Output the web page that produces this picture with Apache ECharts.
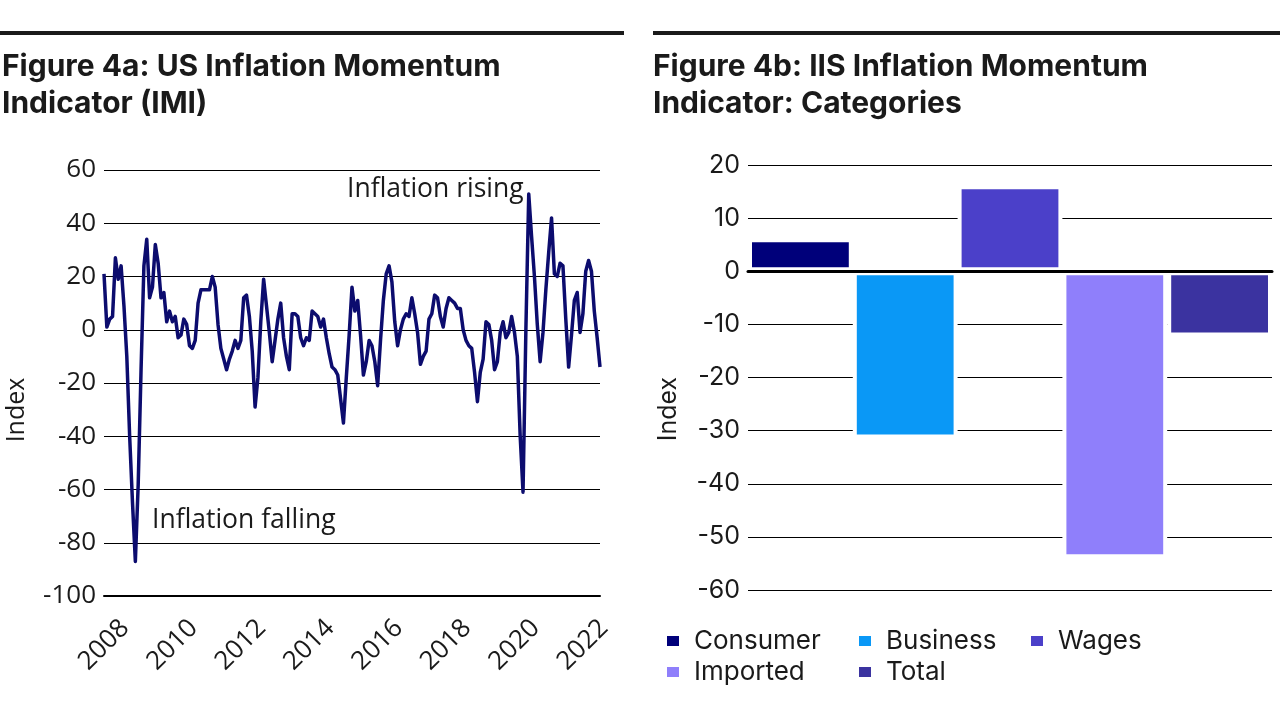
<!DOCTYPE html>
<html>
<head>
<meta charset="utf-8">
<script src="https://cdn.jsdelivr.net/npm/echarts@6/dist/echarts.min.js"></script>
<style>
html,body{margin:0;padding:0;background:#fff;}
#chart{width:1280px;height:720px;}
</style>
</head>
<body>
<div id="chart"></div>
<script>
// ---- Data ----
const startYear = 2008; // monthly series starting January 2008
const imiValues = [
  21, 1, 4, 5, 27, 19, 24, 9, -10, -40, -65, -87,
  -58, -15, 24, 34, 12, 16, 32, 25, 12, 14, 3, 7,
  3, 5, -3, -2, 4, 2, -6, -7, -4, 10, 15, 15,
  15, 15, 20, 16, 2, -7, -11, -15, -11, -8, -4, -7,
  -4, 12, 13, 5, -8, -29, -18, 3, 19, 9, -1, -12,
  -4, 4, 10, -3, -10, -15, 6, 6, 5, -3, -6, -3,
  -4, 7, 6, 5, 1, 4, -3, -9, -14, -15, -17, -26,
  -35, -18, -2, 16, 7, 11, -2, -17, -12, -4, -6, -12,
  -21, -4, 11, 21, 24, 18, 3, -6, 0, 4, 6, 5,
  12, 6, -1, -13, -10, -8, 4, 6, 13, 12, 5, 1,
  8, 12, 11, 10, 8, 8, 0, -4, -6, -7, -16, -27,
  -16, -11, 3, 2, -4, -15, -12, -1, 3, -3, -1, 5,
  -1, -10, -40, -61, 0, 51, 35, 20, 2, -12, -1, 15,
  29, 42, 21, 20, 25, 24, 4, -14, -2, 11, 14, -1,
  6, 22, 26, 22, 7, -3, -14
];
const yearLabels = [2008, 2010, 2012, 2014, 2016, 2018, 2020, 2022];
const barCategories = ['Consumer', 'Business', 'Wages', 'Imported', 'Total'];
const barValues = [6.2, -31.5, 16.2, -54, -12.3];
const barColors = ['#00007a', '#0a98f6', '#4b40c9', '#8f7ffb', '#3b33a0'];
const lineColor = '#0c0c6e';
const txt = '#1a1a1a';

const lineData = imiValues.map((v, i) => [startYear + i / 12, v]);
const xMin = startYear;
const xMax = startYear + (imiValues.length - 1) / 12;

const chart = echarts.init(document.getElementById('chart'), null, {renderer: 'canvas'});

const barSeries = barCategories.map((name, i) => ({
  name: name,
  type: 'bar',
  xAxisIndex: 1,
  yAxisIndex: 1,
  data: [barValues[i]],
  barGap: '0%',
  barCategoryGap: '0%',
  itemStyle: {color: barColors[i], borderColor: '#ffffff', borderWidth: 4},
  emphasis: {disabled: true}
}));

const legendBase = {
  orient: 'vertical',
  icon: 'rect',
  itemWidth: 14,
  itemHeight: 12,
  itemGap: 5,
  top: 628,
  padding: 0,
  selectedMode: false,
  textStyle: {fontFamily: 'Inter', fontSize: 26, color: txt, lineHeight: 25, padding: [0, 0, 0, 9]}
};

const titleStyle = {fontFamily: 'Inter', fontWeight: 'bold', fontSize: 30, lineHeight: 37, color: txt};

const option = {
  animation: false,
  backgroundColor: '#ffffff',
  title: [
    {text: 'Figure 4a: US Inflation Momentum\nIndicator (IMI)', left: 2, top: 48, padding: 0, textStyle: titleStyle},
    {text: 'Figure 4b: IIS Inflation Momentum\nIndicator: Categories', left: 653, top: 48, padding: 0, textStyle: titleStyle}
  ],
  graphic: [
    {type: 'rect', shape: {x: 0, y: 31, width: 624, height: 4}, style: {fill: txt}},
    {type: 'rect', shape: {x: 653, y: 31, width: 627, height: 4}, style: {fill: txt}},
    {type: 'text', x: 17, y: 410, rotation: Math.PI / 2,
     style: {text: 'Index', x: 0, y: 0, align: 'center', verticalAlign: 'middle', fontFamily: 'Open Sans', fontSize: 25, fill: txt}},
    {type: 'text', x: 668, y: 409, rotation: Math.PI / 2,
     style: {text: 'Index', x: 0, y: 0, align: 'center', verticalAlign: 'middle', fontFamily: 'Inter', fontSize: 25, fill: txt}},
    {type: 'text', left: 347, top: 176,
     style: {text: 'Inflation rising', fontFamily: 'Open Sans', fontSize: 26.5, fill: txt}},
    {type: 'text', left: 152, top: 507,
     style: {text: 'Inflation falling', fontFamily: 'Open Sans', fontSize: 26.5, fill: txt}}
  ],
  legend: [
    Object.assign({}, legendBase, {left: 665, data: ['Consumer', 'Imported']}),
    Object.assign({}, legendBase, {left: 857, data: ['Business', 'Total']}),
    Object.assign({}, legendBase, {left: 1029, data: ['Wages']})
  ],
  grid: [
    {left: 104, right: 680, top: 170, bottom: 124},
    {left: 748, right: 8, top: 165, bottom: 130}
  ],
  xAxis: [
    {
      type: 'value', gridIndex: 0, min: xMin, max: xMax, interval: 2,
      axisLine: {show: false}, axisTick: {show: false}, splitLine: {show: false},
      axisLabel: {
        rotate: 45, align: 'center', verticalAlign: 'middle', margin: 49,
        fontFamily: 'Open Sans', fontSize: 26, color: txt,
        showMinLabel: true, showMaxLabel: true,
        formatter: v => (yearLabels.indexOf(Math.round(v * 1000) / 1000) >= 0 ? String(v) : '')
      }
    },
    {
      type: 'category', gridIndex: 1, data: [''], z: 10,
      axisLine: {onZero: true, lineStyle: {color: '#000', width: 3}},
      axisTick: {show: false}, axisLabel: {show: false}, splitLine: {show: false}
    },
    {
      type: 'value', gridIndex: 0, min: xMin, max: xMax, position: 'bottom',
      axisLine: {show: true, onZero: true, lineStyle: {color: '#000', width: 2}},
      axisTick: {show: false}, axisLabel: {show: false}, splitLine: {show: false}
    }
  ],
  yAxis: [
    {
      type: 'value', gridIndex: 0, min: -100, max: 60, interval: 20,
      axisLine: {show: false}, axisTick: {show: false},
      splitLine: {lineStyle: {color: '#000', width: 1}},
      axisLabel: {fontFamily: 'Open Sans', fontSize: 26, color: txt, margin: 8}
    },
    {
      type: 'value', gridIndex: 1, min: -60, max: 20, interval: 10,
      axisLine: {show: false}, axisTick: {show: false},
      splitLine: {lineStyle: {color: '#000', width: 1}},
      axisLabel: {fontFamily: 'Inter', fontSize: 25, color: txt, margin: 8}
    }
  ],
  series: [
    {
      type: 'line', xAxisIndex: 0, yAxisIndex: 0, data: lineData,
      showSymbol: false, smooth: false,
      lineStyle: {color: lineColor, width: 3.5, join: 'round'}, z: 5,
      emphasis: {disabled: true}
    }
  ].concat(barSeries)
};

chart.setOption(option);
</script>
</body>
</html>
